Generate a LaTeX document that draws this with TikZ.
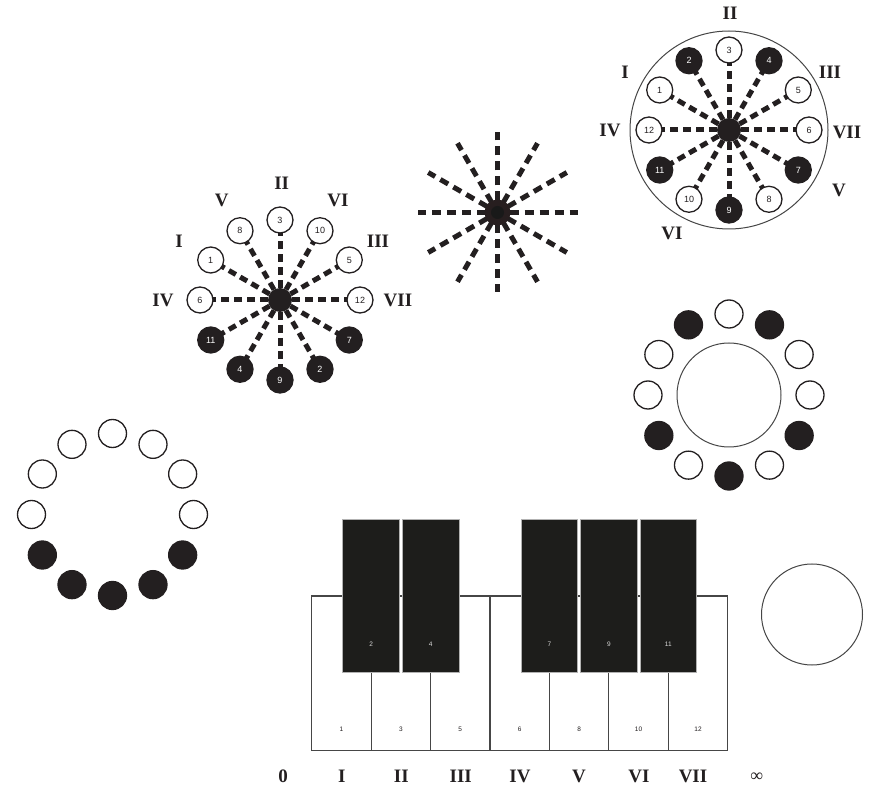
\documentclass[tikz,border=0pt]{standalone}
\usepackage{fontspec}
\setmainfont{Liberation Serif}
\newfontfamily\arialfont{Liberation Sans}
\usetikzlibrary{backgrounds}
\definecolor{ink}{RGB}{35,31,32}
\definecolor{keyblack}{RGB}{29,29,27}
\definecolor{keyline}{RGB}{70,70,70}
\begin{document}
\begin{tikzpicture}[x=1pt,y=-1pt,
  wdot/.style={circle,draw=ink,line width=1.3pt,fill=white,minimum size=26pt,inner sep=0pt,font=\arialfont\fontsize{9}{9}\selectfont,text=ink},
  bdot/.style={wdot,fill=ink,text=white},
  wring/.style={wdot,minimum size=28pt},
  bring/.style={bdot,minimum size=28pt},
  rayA/.style={draw=ink,line width=5pt,dash pattern=on 8pt off 5pt,dash phase=1pt},
  rayB/.style={draw=ink,line width=5pt,dash pattern=on 9pt off 6pt,dash phase=3pt},
  hub/.style={circle,fill=ink,minimum size=24pt,inner sep=0pt},
  rom/.style={font=\bfseries\fontsize{19}{19}\selectfont,text=ink,inner sep=0pt},
  bigring/.style={circle,draw=keyline,line width=1pt,inner sep=0pt},
  wkey/.style={rectangle,draw=keyline,line width=1.2pt,fill=white,minimum width=59.43pt,minimum height=154.7pt,inner sep=0pt},
  bkey/.style={rectangle,draw=gray!60,line width=0.8pt,fill=keyblack,minimum width=56.7pt,minimum height=152.7pt,inner sep=0pt},
  wlab/.style={font=\arialfont\fontsize{6.5}{6.5}\selectfont,text=ink,inner sep=0pt},
  blab/.style={font=\arialfont\fontsize{6.5}{6.5}\selectfont,text=gray!30,inner sep=0pt}
]
\useasboundingbox (0,0) rectangle (879,791);

% ---------- left star ----------
\begin{scope}[shift={(280,300)},yscale=-1]
  \coordinate (LC) at (0,0);
  \foreach \a/\n/\s in {0/12/wdot,30/5/wdot,60/10/wdot,90/3/wdot,120/8/wdot,150/1/wdot,180/6/wdot,210/11/bdot,240/4/bdot,270/9/bdot,300/2/bdot,330/7/bdot}{
    \node[\s] (L\n) at (\a:80) {\n};
    \begin{scope}[on background layer]
      \draw[rayA] (LC) -- (L\n.center);
    \end{scope}
  }
  \node[hub] (Lhub) at (LC) {};
\end{scope}
\node[rom] (lII) at (281.7,183.3) {II};
\node[rom] (lV) at (221.7,200.7) {V};
\node[rom] (lVI) at (338,200.7) {VI};
\node[rom] (lI) at (179,241.7) {I};
\node[rom] (lIII) at (378,241.7) {III};
\node[rom] (lIV) at (163,300) {IV};
\node[rom] (lVII) at (398,300) {VII};

% ---------- middle star ----------
\begin{scope}[shift={(497.5,212.5)},yscale=-1]
  \coordinate (MC) at (0,0);
  \foreach \a in {0,30,...,330}{
    \coordinate (M\a) at (\a:80);
    \begin{scope}[on background layer]
      \draw[rayB] (MC) -- (M\a);
    \end{scope}
  }
  \node[circle,fill=ink!90!red!20!ink,minimum size=26pt,inner sep=0pt] (Mhub) at (MC) {};
  \node[circle,fill=black!90,minimum size=13pt,inner sep=0pt] (Mcore) at (MC) {};
\end{scope}

% ---------- top right star ----------
\node[bigring,minimum size=198pt] (TR) at (729,130) {};
\begin{scope}[shift={(729,130)},yscale=-1]
  \coordinate (TC) at (0,0);
  \foreach \a/\n/\s in {0/6/wdot,30/5/wdot,60/4/bdot,90/3/wdot,120/2/bdot,150/1/wdot,180/12/wdot,210/11/bdot,240/10/wdot,270/9/bdot,300/8/wdot,330/7/bdot}{
    \node[\s] (T\n) at (\a:80) {\n};
    \begin{scope}[on background layer]
      \draw[rayA] (TC) -- (T\n.center);
    \end{scope}
  }
  \node[hub] (Thub) at (TC) {};
\end{scope}
\node[rom] (tII) at (730,13) {II};
\node[rom] (tI) at (625,72) {I};
\node[rom] (tIII) at (830,72) {III};
\node[rom] (tIV) at (610,130.7) {IV};
\node[rom] (tVII) at (847,132) {VII};
\node[rom] (tV) at (839,190) {V};
\node[rom] (tVI) at (672,233) {VI};

% ---------- right ring ----------
\node[bigring,minimum size=104pt] (RR) at (729,395) {};
\begin{scope}[shift={(729,395)},yscale=-1]
  \foreach \a/\s in {0/wring,30/wring,60/bring,90/wring,120/bring,150/wring,180/wring,210/bring,240/wring,270/bring,300/wring,330/bring}{
    \node[\s] (R\a) at (\a:81) {};
  }
\end{scope}

% ---------- left ring ----------
\begin{scope}[shift={(112.5,514.5)},yscale=-1]
  \foreach \a/\s in {0/wring,30/wring,60/wring,90/wring,120/wring,150/wring,180/wring,210/bring,240/bring,270/bring,300/bring,330/bring}{
    \node[\s] (Q\a) at (\a:81) {};
  }
\end{scope}

% ---------- lone circle ----------
\node[bigring,minimum size=101pt] (LoneC) at (812,614.5) {};

% ---------- piano ----------
\foreach \i/\n in {1/1,2/3,3/5,4/6,5/8,6/10,7/12}{
  \node[wkey] (W\i) at ({311.7+59.43*(\i-0.5)},673.35) {};
  \node[wlab] (WL\i) at ({311.7+59.43*(\i-0.5)},729.3) {\n};
}
\foreach \i/\x/\n in {1/371.1/2,2/430.6/4,3/549.4/7,4/608.9/9,5/668.3/11}{
  \node[bkey] (B\i) at (\x,595.65) {};
  \node[blab] (BL\i) at (\x,644.7) {\n};
}

% ---------- bottom labels ----------
\node[rom] (b0) at (283,776.7) {0};
\node[rom] (bI) at (341.7,776.7) {I};
\node[rom] (bII) at (401.3,776.7) {II};
\node[rom] (bIII) at (460.7,776.7) {III};
\node[rom] (bIV) at (520,776.7) {IV};
\node[rom] (bV) at (579,776.7) {V};
\node[rom] (bVI) at (639,776.7) {VI};
\node[rom] (bVII) at (693,776.7) {VII};
\node[font=\fontsize{18}{18}\selectfont,text=ink,inner sep=0pt] (binf) at (756.7,777.5) {∞};
\end{tikzpicture}
\end{document}
